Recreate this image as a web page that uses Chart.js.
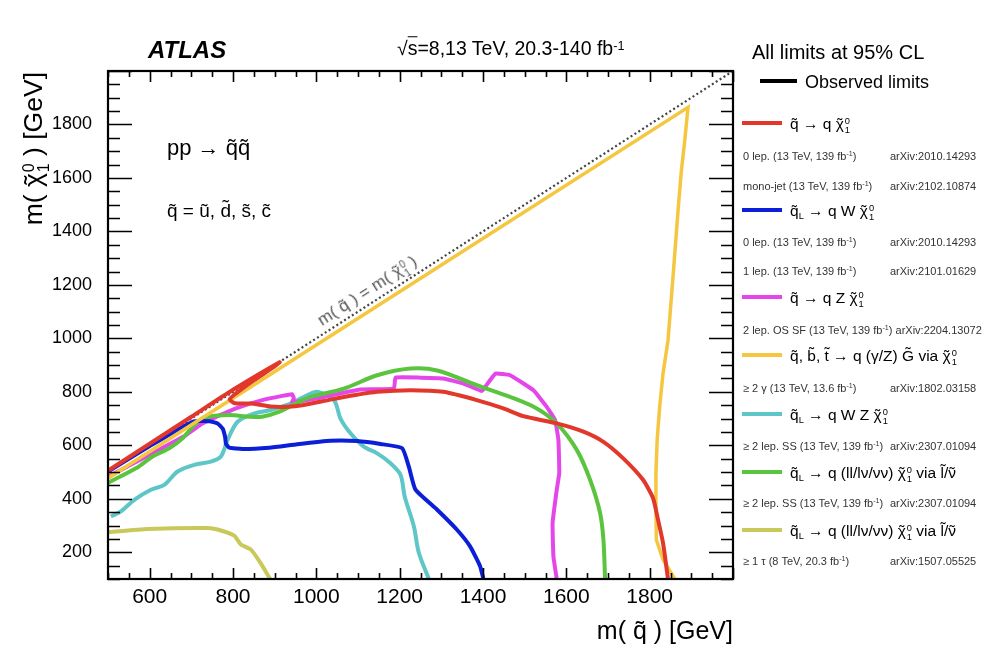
<!DOCTYPE html>
<html><head><meta charset="utf-8">
<script src="https://cdn.jsdelivr.net/npm/chart.js@4.4.0/dist/chart.umd.min.js"></script>
<style>
html,body{margin:0;padding:0;background:#fff;}
#wrap{position:relative;width:990px;height:652px;font-family:'Liberation Sans',Arial,sans-serif;color:#000;overflow:hidden;}
canvas{position:absolute;left:0;top:0;}
.t{position:absolute;white-space:nowrap;transform:translateY(-50%);line-height:1;}
.ss{display:inline-block;font-size:0.6em;line-height:0.95;vertical-align:-0.45em;margin-left:1px;}
.ss span{display:block;}
.sb{font-size:0.6em;vertical-align:-0.35em;}
.sp{font-size:0.65em;vertical-align:0.45em;}
.small{font-size:11px;color:#333;}
.sw{position:absolute;height:4px;width:40px;transform:translateY(-50%);}
.tl{position:relative;display:inline-block;line-height:1;}
.tl>i{position:absolute;left:0;right:0;top:0;text-align:center;font-style:normal;line-height:1;}
.tl.hi>i{top:-0.2em;}
</style></head>
<body>
<div id="wrap">
<canvas id="c" width="990" height="652"></canvas>
</div>
<script>
// ---- axis ranges / tick labels ----
const xTickLabels = [600, 800, 1000, 1200, 1400, 1600, 1800];
const yTickLabels = [200, 400, 600, 800, 1000, 1200, 1400, 1600, 1800];
const xRange = [500, 2000];
const yRange = [100, 2000];

// ---- observed limit contours [m(squark), m(neutralino)] in GeV ----
const sqToQN1 = [[500,505],[600,606],[700,707],[800,808],[912,911],[900,895],[850,843],[808,795],[792,772],[805,757],[846,756],[890,745],[930,744],[970,751],[1034,771],[1090,787],[1146,800],[1226,806],[1305,800],[1385,769],[1449,738],[1497,709],[1577,682],[1641,651],[1689,613],[1736,552],[1784,471],[1808,403],[1820,322],[1832,235],[1844,100]];
const sqToQGammaZG = [[500,477],[1892,1864],[1884,1737],[1876,1625],[1868,1476],[1856,1230],[1844,992],[1832,868],[1824,744],[1818,620],[1815,496],[1815,372],[1816,247],[1832,173],[1860,100]];
const sqLToQWN1 = [[500,502],[600,597],[703,688],[743,690],[763,682],[775,663],[781,632],[783,607],[791,591],[823,586],[887,591],[954,604],[1034,617],[1098,616],[1154,605],[1206,589],[1222,520],[1238,434],[1290,359],[1337,285],[1369,222],[1393,148],[1401,100]];
const sqLToQllSS = [[500,460],[567,514],[607,558],[647,589],[679,626],[711,682],[743,707],[791,713],[839,707],[870,707],[910,725],[950,756],[986,781],[1066,812],[1146,862],[1226,887],[1290,880],[1385,825],[1465,781],[1529,738],[1577,682],[1625,583],[1657,471],[1681,347],[1689,247],[1693,100]];
const sqToQZN1 = [[500,482],[600,565],[687,638],[727,682],[751,700],[807,738],[870,769],[918,785],[942,791],[946,775],[942,762],[1000,775],[1060,795],[1106,809],[1186,812],[1190,853],[1250,853],[1305,850],[1353,831],[1397,803],[1405,818],[1430,868],[1465,862],[1521,806],[1553,744],[1573,694],[1581,620],[1583,496],[1577,434],[1567,310],[1569,185],[1577,100]];
const sqLToQWZN1 = [[507,334],[531,353],[563,396],[603,434],[635,452],[667,502],[707,527],[747,539],[771,558],[787,620],[811,688],[851,719],[890,732],[938,756],[978,787],[1002,800],[1042,770],[1058,700],[1082,645],[1114,595],[1146,570],[1178,533],[1202,490],[1212,409],[1234,297],[1246,198],[1270,100]];
const sqLToQllTau = [[500,275],[595,287],[739,291],[763,285],[803,262],[819,229],[843,210],[866,160],[889,100]];
const diagonal = [[500,500],[2000,2000]];

// ---- colours ----
const cRed = '#e2382b', cYellow = '#f5c63f', cBlue = '#0b1ed8', cGreen = '#5bc43f',
      cMagenta = '#e546ea', cCyan = '#5ec6c6', cOlive = '#c9c85b';

const pts = a => a.map(p => ({x: p[0], y: p[1]}));
const ds = (data, color, w, tension) => ({data: pts(data), borderColor: color, borderWidth: w, showLine: true, pointRadius: 0, tension: tension, fill: false});

const datasets = [
  ds(sqToQN1, cRed, 4, 0.2),
  ds(sqToQGammaZG, cYellow, 3.5, 0),
  ds(sqLToQWN1, cBlue, 4, 0.15),
  ds(sqLToQllSS, cGreen, 4, 0.3),
  ds(sqToQZN1, cMagenta, 4, 0.1),
  ds(sqLToQWZN1, cCyan, 4, 0.3),
  ds(sqLToQllTau, cOlive, 4, 0.15),
  Object.assign(ds(diagonal, '#444', 2.2, 0), {borderDash: [2, 2.6]})
];

const tickPlugin = {
  id: 'rootTicks',
  afterDraw(chart) {
    const {ctx, chartArea: a, scales: {x, y}} = chart;
    ctx.save();
    ctx.strokeStyle = '#000';
    ctx.lineWidth = 1.6;
    ctx.beginPath();
    for (let v = xRange[0]; v <= xRange[1]; v += 50) {
      const p = Math.round(x.getPixelForValue(v)) + 0.5;
      const L = v % 200 === 0 ? 11 : 6;
      ctx.moveTo(p, a.bottom); ctx.lineTo(p, a.bottom - L);
      ctx.moveTo(p, a.top); ctx.lineTo(p, a.top + L);
    }
    for (let v = yRange[0]; v <= yRange[1]; v += 50) {
      const p = Math.round(y.getPixelForValue(v)) + 0.5;
      const L = v % 200 === 0 ? 24 : 12;
      ctx.moveTo(a.left, p); ctx.lineTo(a.left + L, p);
      ctx.moveTo(a.right, p); ctx.lineTo(a.right - L, p);
    }
    ctx.stroke();
    ctx.lineWidth = 2.2;
    ctx.strokeRect(a.left, a.top, a.right - a.left, a.bottom - a.top);
    ctx.restore();
  }
};

Chart.defaults.font.family = "'Liberation Sans', Arial, sans-serif";
Chart.defaults.color = '#000';

new Chart(document.getElementById('c'), {
  type: 'scatter',
  data: {datasets},
  options: {
    responsive: false,
    animation: false,
    devicePixelRatio: 1,
    layout: {padding: {left: 0, right: 257, top: 71, bottom: 0}},
    plugins: {legend: {display: false}, tooltip: {enabled: false}},
    scales: {
      x: {
        type: 'linear', min: xRange[0], max: xRange[1],
        grid: {display: false, drawTicks: false}, border: {display: false},
        ticks: {font: {size: 21}, padding: 6, maxRotation: 0, color: '#000', callback: v => String(v)},
        afterBuildTicks: s => { s.ticks = xTickLabels.map(v => ({value: v})); },
        afterFit: s => { s.height = 73; }
      },
      y: {
        type: 'linear', min: yRange[0], max: yRange[1],
        grid: {display: false, drawTicks: false}, border: {display: false},
        ticks: {font: {size: 18}, padding: 16, color: '#000', callback: v => String(v)},
        afterBuildTicks: s => { s.ticks = yTickLabels.map(v => ({value: v})); },
        afterFit: s => { s.width = 108; }
      }
    }
  },
  plugins: [tickPlugin]
});

// ---- text overlays ----
const T = (ch, hi) => `<span class="tl${hi ? ' hi' : ''}">${ch}<i>˜</i></span>`;
const CHI = T('χ') + '<span class="ss"><span>0</span><span>1</span></span>';
const FB = 'fb<span class="sp">-1</span>';
const SQ = T('q'), SQL = T('q') + '<span class="sb">L</span>';
const VIA = `via ${T('l', true)}/${T('ν')}`;
const legendEntries = [
  {color: cRed, y: 123, label: `${SQ} → q ${CHI}`, refs: [[`0 lep. (13 TeV, 139 ${FB})`, 'arXiv:2010.14293', 156], [`mono-jet (13 TeV, 139 ${FB})`, 'arXiv:2102.10874', 186]]},
  {color: cBlue, y: 210, label: `${SQL} → q W ${CHI}`, refs: [[`0 lep. (13 TeV, 139 ${FB})`, 'arXiv:2010.14293', 242], [`1 lep. (13 TeV, 139 ${FB})`, 'arXiv:2101.01629', 271]]},
  {color: cMagenta, y: 297, label: `${SQ} → q Z ${CHI}`, refs: [[`2 lep. OS SF (13 TeV, 139 ${FB}) arXiv:2204.13072`, '', 330]]},
  {color: cYellow, y: 355, label: `${SQ}, ${T('b', true)}, ${T('t', true)} → q (γ/Z) ${T('G', true)} via ${CHI}`, refs: [[`≥ 2 γ (13 TeV, 13.6 ${FB})`, 'arXiv:1802.03158', 388]]},
  {color: cCyan, y: 414, label: `${SQL} → q W Z ${CHI}`, refs: [[`≥ 2 lep. SS (13 TeV, 139 ${FB})`, 'arXiv:2307.01094', 446]]},
  {color: cGreen, y: 472, label: `${SQL} → q (ll/lν/νν) ${CHI} ${VIA}`, refs: [[`≥ 2 lep. SS (13 TeV, 139 ${FB})`, 'arXiv:2307.01094', 503]]},
  {color: cOlive, y: 530, label: `${SQL} → q (ll/lν/νν) ${CHI} ${VIA}`, refs: [[`≥ 1 τ (8 TeV, 20.3 ${FB})`, 'arXiv:1507.05525', 561]]}
];

const wrap = document.getElementById('wrap');
function addText(html, style, cls) {
  const d = document.createElement('div');
  d.className = cls || 't';
  d.innerHTML = html;
  Object.assign(d.style, style);
  wrap.appendChild(d);
  return d;
}
function addSwatch(color, x, y, w) {
  const d = document.createElement('div');
  d.className = 'sw';
  Object.assign(d.style, {left: x + 'px', top: y + 'px', background: color, width: (w || 40) + 'px'});
  wrap.appendChild(d);
}

addText('ATLAS', {left: '148px', top: '50px', fontSize: '24px', fontWeight: 'bold', fontStyle: 'italic'});
addText('√<span style="text-decoration:overline">s</span>=8,13 TeV, 20.3-140 ' + FB, {left: '397px', top: '49px', fontSize: '19.5px'});
addText('All limits at 95% CL', {left: '752px', top: '52px', fontSize: '20px'});
addSwatch('#000', 760, 81, 37);
addText('Observed limits', {left: '805px', top: '82px', fontSize: '18px'});

legendEntries.forEach(e => {
  addSwatch(e.color, 742, e.y, 40);
  addText(e.label, {left: '790px', top: (e.y + 2) + 'px', fontSize: '15.5px'});
  e.refs.forEach(r => {
    addText(r[0], {left: '743px', top: r[2] + 'px'}, 't small');
    if (r[1]) addText(r[1], {left: '890px', top: r[2] + 'px'}, 't small');
  });
});

addText(`pp → ${SQ}${SQ}`, {left: '167px', top: '148px', fontSize: '22px'});
addText(`${SQ} = ${T('u')}, ${T('d', true)}, ${T('s')}, ${T('c')}`, {left: '167px', top: '210px', fontSize: '19px'});
addText(`m( ${SQ} ) = m( ${CHI} )`, {left: '368px', top: '292px', fontSize: '17px', color: '#555', transform: 'translate(-50%,-50%) rotate(-32.7deg)'});
addText(`m( ${SQ} ) [GeV]`, {right: '257px', top: '630px', fontSize: '25px'});
addText(`m( ${CHI} ) [GeV]`, {left: '-67px', top: '157px', width: '200px', height: '30px', lineHeight: '30px', textAlign: 'right', fontSize: '26.5px', transform: 'rotate(-90deg)'});
</script>
</body></html>
